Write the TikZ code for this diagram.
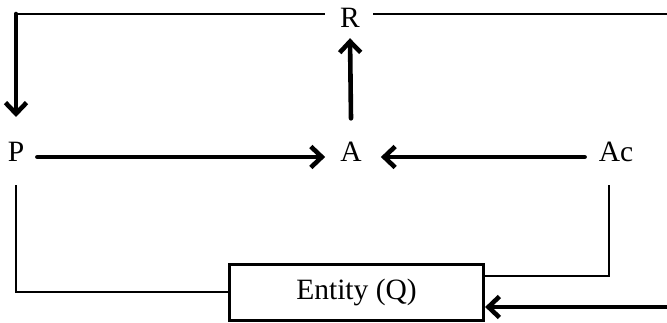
\documentclass[tikz,border=0pt]{standalone}
\usepackage{fontspec}
\setmainfont{Liberation Serif}
\usetikzlibrary{arrows.meta}

\begin{document}
\begin{tikzpicture}[x=1pt,y=1pt,
        lbl/.style={font=\fontsize{29.5}{34}\selectfont, inner sep=2pt},
        wire/.style={line width=2pt},
        flow/.style={line width=4.6pt, line cap=round, -{Straight Barb[length=11pt,width=21pt,line width=4.6pt]}}]
            \useasboundingbox (0,0) rectangle (667,323);
            \node[lbl, anchor=base] (r) at (350,295) {R};
            \node[lbl, anchor=base] (p) at (16,161) {P};
            \node[lbl, anchor=base] (a) at (351,161) {A};
            \node[lbl, anchor=base] (ac) at (616,161) {Ac};
            \node[lbl, draw, line width=3.2pt, minimum width=254pt, minimum height=56pt] (q) at (356.5,30.5) {Entity (Q)};
            \coordinate (corner) at (16,309);
            \coordinate (rend) at (667,309);
            \coordinate (qin) at (667,16);
            \coordinate (acturn) at (609,47);
            % feedback from R
            \draw[wire] ([xshift=-13pt,yshift=14pt]r.base west) -- (corner);
            \draw[wire] ([xshift=11pt,yshift=14pt]r.base east) -- (rend);
            \draw[flow] (corner) -- (16,206);
            % inputs to A
            \draw[flow] ([xshift=11pt,yshift=5pt]p.base east) -- ([xshift=-13pt,yshift=5pt]a.base west);
            \draw[flow] ([xshift=-12pt,yshift=5pt]ac.base west) -- ([xshift=17pt,yshift=5pt]a.base east);
            \draw[flow] ([yshift=22pt]a.north) -- ([yshift=-8pt]r.south);
            % links to the entity
            \draw[wire] ([yshift=-21pt]p.south) |- (q.west);
            \draw[wire] ([xshift=-7pt,yshift=-21pt]ac.south) |- (q.east |- acturn);
            \draw[flow] (qin) -- (q.east |- qin);
        \end{tikzpicture}
\end{document}
